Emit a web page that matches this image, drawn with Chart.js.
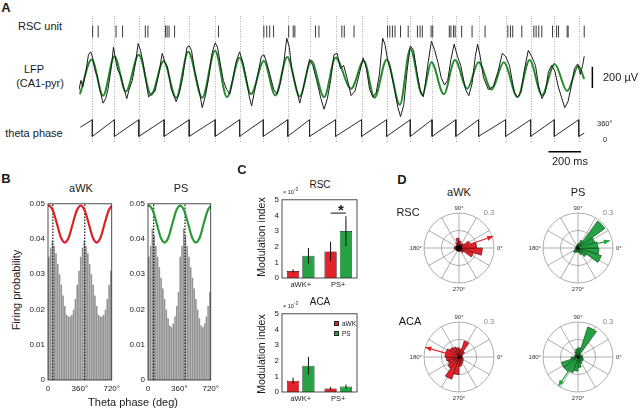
<!DOCTYPE html>
<html lang="en">
  <head>
    <meta charset="UTF-8" />
    <title>Theta phase locking of RSC and ACA units</title>
    <script src="https://cdn.jsdelivr.net/npm/chart.js"></script>
    <style>
      body { margin: 0; background: #fff; }
      #fig {
        position: relative; width: 640px; height: 410px; overflow: hidden;
        font-family: "Liberation Sans", Arial, sans-serif; color: #1a1a1a;
      }
      #fig canvas { position: absolute; }
      .t { position: absolute; white-space: nowrap; line-height: 1; transform: translate(-50%, -50%); }
      .l { transform: translate(0, -50%); }
      .r { transform: translate(-100%, -50%); }
      .rot { transform: translate(-50%, -50%) rotate(-90deg); }
      .p { font-weight: bold; font-size: 13px; }
      .sq { position: absolute; width: 5px; height: 5px; box-sizing: border-box; border: 0.6px solid #222; }
    </style>
  </head>
  <body>
    <div id="fig">
      <!-- A -->
      <canvas id="cA" width="568" height="150" style="left:72px;top:10px"></canvas>
      <div class="t p" style="left:6px;top:7px">A</div>
      <div class="t" style="left:40px;top:26px;font-size:11px">RSC unit</div>
      <div class="t" style="left:34px;top:69px;font-size:11px">LFP</div>
      <div class="t" style="left:40px;top:83px;font-size:11px">(CA1-pyr)</div>
      <div class="t" style="left:34px;top:133px;font-size:11px">theta phase</div>
      <div class="t l" style="left:603px;top:77px;font-size:11px">200 µV</div>
      <div class="t l" style="left:597px;top:123.5px;font-size:7.5px">360°</div>
      <div class="t l" style="left:603px;top:140px;font-size:7.5px">0</div>
      <div class="t" style="left:570px;top:161px;font-size:11px">200 ms</div>

      <!-- B -->
      <canvas id="cBawk" width="102" height="198" style="left:22px;top:196px"></canvas>
      <canvas id="cBps" width="101" height="198" style="left:122px;top:196px"></canvas>
      <div class="t p" style="left:6px;top:178px">B</div>
      <div class="t" style="left:81px;top:188px;font-size:11px">aWK</div>
      <div class="t" style="left:181px;top:188px;font-size:11px">PS</div>
      <div class="t rot" style="left:16px;top:290px;font-size:11px">Firing probability</div>
      <div class="t" style="left:133px;top:401.5px;font-size:11px">Theta phase (deg)</div>

      <!-- C -->
      <canvas id="cCrsc" width="95" height="98" style="left:266px;top:192px"></canvas>
      <canvas id="cCaca" width="95" height="98" style="left:266px;top:306px"></canvas>
      <div class="t p" style="left:242px;top:169px">C</div>
      <div class="t" style="left:320px;top:185px;font-size:10px">RSC</div>
      <div class="t l" style="left:283px;top:192px;font-size:5.5px">× 10<sup>-3</sup></div>
      <div class="t rot" style="left:261px;top:237px;font-size:10.5px">Modulation index</div>
      <div class="t" style="left:341px;top:209px;font-size:15px;font-weight:bold">*</div>
      <div class="t" style="left:320px;top:302px;font-size:10px">ACA</div>
      <div class="t l" style="left:283px;top:306px;font-size:5.5px">× 10<sup>-3</sup></div>
      <div class="t rot" style="left:261px;top:354px;font-size:10.5px">Modulation index</div>
      <div class="sq" style="left:334px;top:321px;background:#e4222a"></div>
      <div class="t l" style="left:342px;top:323.5px;font-size:6.5px">aWK</div>
      <div class="sq" style="left:334px;top:331px;background:#25a244"></div>
      <div class="t l" style="left:342px;top:333.5px;font-size:6.5px">PS</div>

      <!-- D -->
      <canvas id="dRA" width="90" height="90" style="left:414px;top:203px"></canvas>
      <canvas id="dRP" width="90" height="90" style="left:533px;top:203px"></canvas>
      <canvas id="dAA" width="90" height="90" style="left:414px;top:312px"></canvas>
      <canvas id="dAP" width="90" height="90" style="left:533px;top:312px"></canvas>
      <div class="t p" style="left:402px;top:179px">D</div>
      <div class="t" style="left:459px;top:192px;font-size:11px">aWK</div>
      <div class="t" style="left:578px;top:192px;font-size:11px">PS</div>
      <div class="t" style="left:408px;top:212px;font-size:11px">RSC</div>
      <div class="t" style="left:410px;top:321px;font-size:11px">ACA</div>
    </div>

    <script>
      // ---------- A: example trace (time in ms, LFP in µV) ----------
      const resetTimes = [82, 218, 368, 524, 678, 838, 988, 1134, 1284, 1418, 1578, 1738, 1892, 2038, 2172, 2318, 2458, 2624, 2778, 2924, 3074]
      const spikeTimes = [84, 118, 228, 268, 408, 424, 532, 542, 554, 588, 858, 1137, 1155, 1173, 1197, 1290, 1318, 1328, 1455, 1476, 1617, 1632, 1692, 1898, 1912, 1928, 1944, 1978, 2025, 2082, 2098, 2112, 2166, 2176, 2278, 2288, 2304, 2314, 2354, 2418, 2498, 2638, 2654, 2668, 2724, 2798, 2812, 2828, 2847, 2913, 2938, 2950, 3003, 3009, 3108]
      const rawT = [-2, 12, 24, 44, 58, 72, 84, 98, 112, 128, 148, 164, 178, 198, 212, 228, 238, 258, 278, 294, 308, 328, 348, 364, 378, 394, 408, 428, 448, 468, 492, 512, 528, 544, 568, 598, 618, 638, 664, 678, 692, 712, 738, 758, 778, 798, 818, 838, 852, 868, 888, 908, 928, 948, 968, 988, 1008, 1028, 1048, 1062, 1078, 1098, 1122, 1138, 1154, 1174, 1198, 1218, 1238, 1258, 1278, 1294, 1308, 1338, 1358, 1378, 1398, 1418, 1438, 1462, 1488, 1508, 1528, 1548, 1568, 1588, 1608, 1628, 1648, 1674, 1698, 1728, 1748, 1768, 1788, 1808, 1828, 1848, 1868, 1882, 1898, 1918, 1938, 1962, 1978, 1998, 2018, 2038, 2058, 2078, 2098, 2118, 2128, 2148, 2168, 2188, 2208, 2228, 2248, 2268, 2288, 2308, 2328, 2348, 2378, 2398, 2418, 2438, 2452, 2468, 2488, 2518, 2548, 2578, 2604, 2624, 2648, 2678, 2698, 2718, 2738, 2764, 2784, 2808, 2828, 2848, 2868, 2888, 2908, 2928, 2948, 2968, 2988, 3008, 3028, 3048, 3068, 3084, 3098, 3108]
      const rawV = [-135, -34, -92, 66, 209, 238, 181, 66, 9, -120, -249, -206, -120, 80, 281, 138, 66, 9, -120, -206, -120, -34, 138, 316, 252, 138, -6, -192, -149, -135, 37, 224, 138, 95, -120, -235, -149, -6, 281, 295, 252, 52, -120, -292, -178, -6, 224, 324, 281, 138, -34, -120, -163, -6, 152, 238, 138, -6, -192, -275, -149, 9, 195, 209, 138, 23, -120, -163, -63, 109, 367, 281, 80, -120, -249, -120, 23, 166, 109, -34, -206, -307, -206, -34, 209, 224, 80, 109, -6, -178, -135, 52, 181, 80, -120, -192, -149, 23, 367, 310, 166, 52, -92, -292, -378, -264, 52, 295, 252, 52, -120, -189, -92, 138, 338, 252, 138, -6, -77, -34, 166, 310, 195, 109, -120, -178, -63, 195, 310, 195, -6, -120, -92, 52, 224, 195, 109, -149, -192, -149, 52, 252, 195, 109, -92, -206, -149, 52, 109, 52, -92, -192, -292, -235, -92, 80, 123, 23, 109, 195]
      const filtT = [6, 78, 148, 218, 288, 368, 444, 520, 598, 672, 758, 837, 910, 988, 1058, 1137, 1208, 1281, 1358, 1428, 1508, 1578, 1674, 1752, 1818, 1893, 1974, 2038, 2112, 2168, 2244, 2313, 2388, 2458, 2538, 2613, 2698, 2772, 2848, 2926, 3003, 3072, 3108]
      const filtV = [-163, 166, -178, 195, -138, 209, -172, 149, -198, 238, -198, 249, -192, 181, -163, 151, -176, 189, -185, 152, -192, 181, -112, 152, -198, 166, -264, 267, -172, 138, -163, 159, -112, 138, -120, 138, -192, 159, -172, 123, -135, 103, -20]
      const phaseStart = [8, 196]
      const phaseEnd = [3108, 70]

      // ---------- B: phase histograms (20° bins, shown over two cycles) ----------
      const binCenters = [10, 30, 50, 70, 90, 110, 130, 150, 170, 190, 210, 230, 250, 270, 290, 310, 330, 350]
      const histAwk = [0.035, 0.0375, 0.0395, 0.038, 0.036, 0.033, 0.030, 0.027, 0.024, 0.021, 0.0185, 0.018, 0.018, 0.0185, 0.020, 0.023, 0.027, 0.031]
      const histPs = [0.035, 0.038, 0.043, 0.041, 0.038, 0.035, 0.032, 0.029, 0.026, 0.023, 0.020, 0.0175, 0.0155, 0.015, 0.016, 0.018, 0.021, 0.025]
      const curvePhase = [0, 10, 55, 100, 145, 190, 235, 280, 325, 370, 415, 460, 505, 550, 595, 640, 685, 720]
      const curveProb = [0.0494, 0.0495, 0.0481, 0.0444, 0.0405, 0.039, 0.0405, 0.0444, 0.0481, 0.0495, 0.0481, 0.0444, 0.0405, 0.039, 0.0405, 0.0444, 0.0481, 0.0494]
      const peakAwk = [55, 415]
      const peakPs = [65, 425]

      // ---------- C: modulation index (x 10^-3) ----------
      const groups = ["aWK+", "PS+"]
      const rscAwk = [0.45, 1.7]
      const rscAwkErr = [0.1, 0.62]
      const rscPs = [1.42, 3.0]
      const rscPsErr = [0.5, 0.95]
      const acaAwk = [0.72, 0.23]
      const acaAwkErr = [0.2, 0.1]
      const acaPs = [1.68, 0.35]
      const acaPsErr = [0.57, 0.13]

      // ---------- D: rose plots (18° bins from 0°, counter-clockwise) ----------
      const roseRscAwk = [0.15, 0.10, 0.05, 0.04, 0.06, 0.085, 0.05, 0.03, 0.03, 0.04, 0.04, 0.03, 0.03, 0.03, 0.03, 0.03, 0.03, 0.05, 0.13, 0.20]
      const roseRscPs = [0.17, 0.15, 0.285, 0.07, 0.04, 0.03, 0.02, 0.02, 0.02, 0.02, 0.02, 0.03, 0.05, 0.04, 0.03, 0.04, 0.06, 0.09, 0.21, 0.18]
      const roseAcaAwk = [0.03, 0.03, 0.06, 0.145, 0.07, 0.08, 0.09, 0.10, 0.12, 0.12, 0.11, 0.10, 0.12, 0.20, 0.15, 0.08, 0.06, 0.05, 0.04, 0.03]
      const roseAcaPs = [0.04, 0.03, 0.03, 0.27, 0.08, 0.07, 0.05, 0.03, 0.03, 0.03, 0.06, 0.15, 0.15, 0.14, 0.12, 0.09, 0.06, 0.05, 0.05, 0.04]
      const ringValues = [0, 0.15, 0.3]
      // mean vector: [angle in deg, length]
      const arrowRscAwk = [19, 0.31]
      const arrowRscPs = [13, 0.28]
      const arrowAcaAwk = [164, 0.3]
      const arrowAcaPs = [236, 0.3]

      const red = "#e4222a"
      const green = "#25a244"

      Chart.defaults.font.family = '"Liberation Sans", Arial, sans-serif'
      Chart.defaults.color = "#1a1a1a"
      Chart.defaults.animation = false
      Chart.defaults.responsive = false
      Chart.defaults.events = []
      Chart.defaults.plugins.legend.display = false
      Chart.defaults.plugins.tooltip.enabled = false

      // ---- A ----
      const thetaMarks = {
        id: "thetaMarks",
        beforeDatasetsDraw(chart) {
          const { ctx, scales: { x } } = chart
          ctx.save()
          ctx.strokeStyle = "#9a9a9a"
          ctx.lineWidth = 0.8
          ctx.setLineDash([1, 1.5])
          resetTimes.forEach((t) => {
            const px = Math.round(x.getPixelForValue(t)) + 0.5
            ctx.beginPath()
            ctx.moveTo(px, 6)
            ctx.lineTo(px, 133)
            ctx.stroke()
          })
          ctx.restore()
        },
        afterDatasetsDraw(chart, args, opts) {
          const { ctx, scales: { x, yL } } = chart
          ctx.save()
          ctx.strokeStyle = "#000"
          ctx.lineWidth = 1.5
          // time scale bar
          ctx.beginPath()
          ctx.moveTo(x.getPixelForValue(opts.msAt), opts.msY)
          ctx.lineTo(x.getPixelForValue(opts.msAt + 200), opts.msY)
          ctx.stroke()
          // voltage scale bar
          const bx = x.getPixelForValue(opts.uvAt)
          ctx.beginPath()
          ctx.moveTo(bx, yL.getPixelForValue(opts.uvFrom))
          ctx.lineTo(bx, yL.getPixelForValue(opts.uvFrom + 200))
          ctx.stroke()
          ctx.restore()
        },
      }

      const phasePts = [{ x: phaseStart[0], y: phaseStart[1] }]
      resetTimes.forEach((t) => phasePts.push({ x: t, y: 360 }, { x: t, y: 0 }))
      phasePts.push({ x: phaseEnd[0], y: phaseEnd[1] })

      new Chart(document.getElementById("cA"), {
        type: "line",
        data: {
          datasets: [
            {
              data: spikeTimes.map((t) => ({ x: t, y: 1 })),
              yAxisID: "yR",
              showLine: false,
              pointStyle: "line",
              pointRotation: 90,
              pointRadius: 6,
              pointBorderWidth: 1,
              pointBorderColor: "#3a3a3a",
            },
            { data: phasePts, yAxisID: "yP", borderColor: "#2a2a2a", borderWidth: 1, pointRadius: 0 },
            {
              data: rawT.map((t, i) => ({ x: t, y: rawV[i] })),
              yAxisID: "yL",
              borderColor: "#1c1c1c",
              borderWidth: 1,
              pointRadius: 0,
            },
            {
              data: filtT.map((t, i) => ({ x: t, y: filtV[i] })),
              yAxisID: "yL",
              borderColor: "#238a2e",
              borderWidth: 2,
              pointRadius: 0,
              cubicInterpolationMode: "monotone",
            },
          ],
        },
        options: {
          layout: { padding: 0 },
          scales: {
            x: { type: "linear", min: 0, max: 3408, display: false },
            yL: { type: "linear", min: -722, max: 568, display: false },
            yP: { type: "linear", min: -358, max: 2577, display: false },
            yR: { type: "linear", min: -7.375, max: 2, display: false },
          },
          plugins: { thetaMarks: { msAt: 2888, msY: 141.7, uvAt: 3158, uvFrom: -105 } },
        },
        plugins: [thetaMarks],
      })

      // ---- shared box outline ----
      const frame = {
        id: "frame",
        afterDatasetsDraw(chart) {
          const { ctx, chartArea: a } = chart
          ctx.save()
          ctx.strokeStyle = "#222"
          ctx.lineWidth = 0.8
          ctx.strokeRect(a.left, a.top, a.right - a.left, a.bottom - a.top)
          ctx.restore()
        },
      }
      const noGrid = { display: false, drawTicks: false }

      // ---- B ----
      function makeHist(id, bins, color, peaks) {
        const bars = []
        for (let c = 0; c < 2; c++) bins.forEach((v, i) => bars.push({ x: binCenters[i] + 360 * c, y: v }))
        const datasets = [
          {
            type: "line",
            data: curvePhase.map((p, i) => ({ x: p, y: curveProb[i] })),
            borderColor: color,
            borderWidth: 2.2,
            pointRadius: 0,
            cubicInterpolationMode: "monotone",
            order: 0,
          },
          ...peaks.map((p) => ({
            type: "line",
            data: [{ x: p, y: 0 }, { x: p, y: 0.05 }],
            borderColor: "#111",
            borderWidth: 1.2,
            borderDash: [1.5, 1.5],
            pointRadius: 0,
            order: 1,
          })),
          { type: "bar", data: bars, backgroundColor: "#929292", barPercentage: 1, categoryPercentage: 0.9, order: 2 },
        ]
        return new Chart(document.getElementById(id), {
          type: "bar",
          data: { datasets },
          options: {
            layout: { padding: { top: 6, right: 10 } },
            scales: {
              x: {
                type: "linear", min: 0, max: 720, offset: false,
                grid: noGrid, border: { display: false },
                ticks: { stepSize: 360, font: { size: 8 }, padding: 4, maxRotation: 0, autoSkip: false,
                  callback: (v) => (v === 0 ? "0" : v + "°") },
                afterFit: (s) => { s.height = 14 },
              },
              y: {
                min: 0, max: 0.05,
                grid: noGrid, border: { display: false },
                ticks: { stepSize: 0.01, font: { size: 8 }, padding: 3, autoSkip: false,
                  callback: (v) => (v === 0 ? "0" : v.toFixed(2)) },
                afterFit: (s) => { s.width = 26 },
              },
            },
          },
          plugins: [frame],
        })
      }
      makeHist("cBawk", histAwk, "#d8232a", peakAwk)
      makeHist("cBps", histPs, "#2a9a3a", peakPs)

      // ---- C ----
      const errBars = {
        id: "errBars",
        afterDatasetsDraw(chart, args, opts) {
          const { ctx, scales: { y } } = chart
          ctx.save()
          ctx.strokeStyle = "#111"
          ctx.lineWidth = 1
          chart.data.datasets.forEach((ds, i) => {
            chart.getDatasetMeta(i).data.forEach((bar, j) => {
              const v = ds.data[j], e = ds.errors[j]
              ctx.beginPath()
              ctx.moveTo(bar.x, y.getPixelForValue(v - e))
              ctx.lineTo(bar.x, y.getPixelForValue(v + e))
              ctx.stroke()
            })
          })
          if (opts.index != null) {
            const a = chart.getDatasetMeta(0).data[opts.index]
            const b = chart.getDatasetMeta(1).data[opts.index]
            const py = y.getPixelForValue(opts.y)
            ctx.beginPath()
            ctx.moveTo(a.x, py)
            ctx.lineTo(b.x, py)
            ctx.stroke()
          }
          ctx.restore()
        },
      }

      function makeMod(id, rv, re, gv, ge, sig) {
        return new Chart(document.getElementById(id), {
          type: "bar",
          data: {
            labels: groups,
            datasets: [
              { data: rv, errors: re, backgroundColor: red, borderColor: "#2a0000", borderWidth: 0.7 },
              { data: gv, errors: ge, backgroundColor: green, borderColor: "#002a0a", borderWidth: 0.7 },
            ],
          },
          options: {
            layout: { padding: { top: 6, right: 4 } },
            datasets: { bar: { categoryPercentage: 0.82, barPercentage: 0.8 } },
            scales: {
              x: {
                grid: noGrid, border: { display: false },
                ticks: { font: { size: 7.5 }, padding: 2, autoSkip: false },
                afterFit: (s) => { s.height = 12 },
              },
              y: {
                min: 0, max: 5,
                grid: noGrid, border: { display: false },
                ticks: { stepSize: 1, font: { size: 8 }, padding: 3, autoSkip: false },
                afterFit: (s) => { s.width = 16 },
              },
            },
            plugins: { errBars: sig },
          },
          plugins: [frame, errBars],
        })
      }
      makeMod("cCrsc", rscAwk, rscAwkErr, rscPs, rscPsErr, { index: 1, y: 4.15 })
      makeMod("cCaca", acaAwk, acaAwkErr, acaPs, acaPsErr, {})

      // ---- D ----
      const roseDeco = {
        id: "roseDeco",
        beforeDatasetsDraw(chart) {
          const s = chart.scales.r, ctx = chart.ctx
          const R = s.getDistanceFromCenterForValue(0.3)
          ctx.save()
          ctx.strokeStyle = "#9a9a9a"
          ctx.lineWidth = 0.8
          for (let a = 0; a < 360; a += 30) {
            const th = (a * Math.PI) / 180
            ctx.beginPath()
            ctx.moveTo(s.xCenter, s.yCenter)
            ctx.lineTo(s.xCenter + R * Math.cos(th), s.yCenter - R * Math.sin(th))
            ctx.stroke()
          }
          ctx.restore()
        },
        afterDatasetsDraw(chart, args, opts) {
          const s = chart.scales.r, ctx = chart.ctx
          const th = (opts.arrow[0] * Math.PI) / 180
          const r = s.getDistanceFromCenterForValue(opts.arrow[1])
          const tx = s.xCenter + r * Math.cos(th), ty = s.yCenter - r * Math.sin(th)
          ctx.save()
          ctx.strokeStyle = opts.color
          ctx.fillStyle = opts.color
          ctx.lineWidth = 1.2
          ctx.beginPath()
          ctx.moveTo(s.xCenter, s.yCenter)
          ctx.lineTo(tx, ty)
          ctx.stroke()
          const hl = 6, hw = 2.6
          const bx = tx - hl * Math.cos(th), by = ty + hl * Math.sin(th)
          const nx = Math.sin(th) * hw, ny = Math.cos(th) * hw
          ctx.beginPath()
          ctx.moveTo(tx, ty)
          ctx.lineTo(bx + nx, by + ny)
          ctx.lineTo(bx - nx, by - ny)
          ctx.closePath()
          ctx.fill()
          ctx.fillStyle = "#000"
          ctx.beginPath()
          ctx.arc(s.xCenter, s.yCenter, opts.dot, 0, 2 * Math.PI)
          ctx.fill()
          ctx.restore()
        },
      }

      function makeRose(id, bins, fill, edge, arrow, dot) {
        return new Chart(document.getElementById(id), {
          type: "polarArea",
          data: {
            labels: bins.map((_, i) => i * 18 + "°").reverse(),
            // chart.js runs clockwise from the start angle, so feed the bins backwards
            datasets: [{ data: bins.slice().reverse(), backgroundColor: fill, borderColor: edge, borderWidth: 0.6 }],
          },
          options: {
            layout: { padding: 10 },
            scales: {
              r: {
                min: 0, max: 0.3, startAngle: 90,
                ticks: { display: false },
                grid: { color: "#9a9a9a", lineWidth: 0.8 },
                angleLines: { display: false },
                pointLabels: { display: false },
                afterBuildTicks: (s) => { s.ticks = ringValues.map((v) => ({ value: v })) },
              },
            },
            plugins: { legend: { display: false }, roseDeco: { arrow, color: fill, dot } },
          },
          plugins: [roseDeco],
        })
      }
      makeRose("dRA", roseRscAwk, red, "#4a0808", arrowRscAwk, 3)
      makeRose("dRP", roseRscPs, green, "#083a12", arrowRscPs, 1.5)
      makeRose("dAA", roseAcaAwk, red, "#4a0808", arrowAcaAwk, 1.5)
      makeRose("dAP", roseAcaPs, green, "#083a12", arrowAcaPs, 1.5)

      // angle labels round each rose
      const fig = document.getElementById("fig")
      function label(txt, x, y, cls, size, color) {
        const d = document.createElement("div")
        d.className = "t " + cls
        d.textContent = txt
        d.style.left = x + "px"
        d.style.top = y + "px"
        d.style.fontSize = size + "px"
        if (color) d.style.color = color
        fig.appendChild(d)
      }
      ;[[459, 248], [578, 248], [459, 357], [578, 357]].forEach(([cx, cy]) => {
        label("90°", cx, cy - 40, "", 6, "#333")
        label("270°", cx, cy + 41, "", 6, "#333")
        label("180°", cx - 37, cy, "r", 6, "#333")
        label("0°", cx + 38, cy, "l", 6, "#333")
        label("0.3", cx + 30, cy - 35, "", 7.5, "#888")
      })
    </script>
  </body>
</html>
